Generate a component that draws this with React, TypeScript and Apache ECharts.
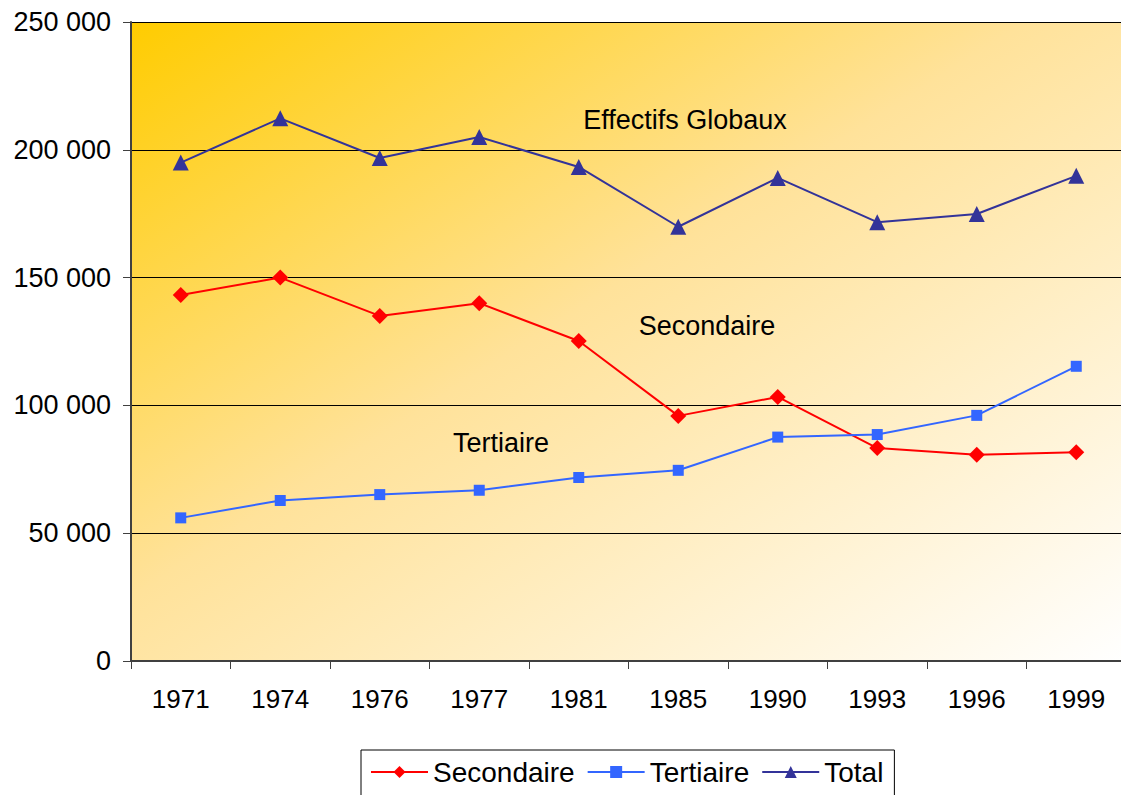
import React, { useEffect, useRef } from "react";
import * as echarts from "echarts";

const years = ["1971", "1974", "1976", "1977", "1981", "1985", "1990", "1993", "1996", "1999"];
const secondaire = [143200, 150000, 135000, 140000, 125200, 95900, 103300, 83300, 80700, 81700];
const tertiaire = [56000, 62800, 65100, 66800, 71800, 74600, 87600, 88600, 96100, 115300];
const total = [195000, 212300, 196800, 205000, 193300, 169900, 189000, 171700, 174900, 189800];
const yTicks = [0, 50000, 100000, 150000, 200000, 250000];

const FONT = "'Liberation Sans', Arial, sans-serif";

export default function App() {
  const ref = useRef<HTMLDivElement>(null);
  useEffect(() => {
    const chart = echarts.init(ref.current!, null, { renderer: "svg" });
    chart.setOption({
      animation: false,
      textStyle: { fontFamily: FONT },
      grid: {
        left: 131,
        top: 22,
        right: 0,
        bottom: 134,
        show: true,
        borderWidth: 0,
        backgroundColor: new echarts.graphic.LinearGradient(0, 0, 1, 1, [
          { offset: 0, color: "#FFCC00" },
          { offset: 0.45, color: "#FFE29A" },
          { offset: 1, color: "#FFFFFF" },
        ]),
      },
      xAxis: {
        type: "category",
        data: years,
        boundaryGap: true,
        axisLine: { lineStyle: { color: "#404040", width: 2 } },
        axisTick: { show: true, length: 8, lineStyle: { color: "#404040", width: 1 } },
        axisLabel: { color: "#000", fontSize: 26, fontFamily: FONT, margin: 25 },
      },
      yAxis: {
        type: "value",
        min: yTicks[0],
        max: yTicks[yTicks.length - 1],
        interval: 50000,
        axisLine: { show: true, lineStyle: { color: "#404040", width: 2 } },
        axisTick: { show: true, length: 8, lineStyle: { color: "#404040" } },
        axisLabel: {
          color: "#000",
          fontSize: 27,
          fontFamily: FONT,
          margin: 20,
          formatter: (v: number) =>
            v === 0 ? "0" : String(v).replace(/\B(?=(\d{3})+(?!\d))/g, " "),
        },
        splitLine: { show: true, lineStyle: { color: "#000", width: 1 } },
      },
      legend: {
        left: 361,
        top: 750,
        padding: [8, 11, 14, 9],
        borderColor: "#000",
        borderWidth: 1,
        itemWidth: 57,
        itemHeight: 15,
        itemGap: 12,
        textStyle: { color: "#000", fontSize: 28, fontFamily: FONT },
        data: ["Secondaire", "Tertiaire", "Total"],
      },
      series: [
        {
          name: "Secondaire",
          type: "line",
          data: secondaire,
          symbol: "diamond",
          symbolSize: 16,
          lineStyle: { color: "#FF0000", width: 2 },
          itemStyle: { color: "#FF0000" },
        },
        {
          name: "Tertiaire",
          type: "line",
          data: tertiaire,
          symbol: "rect",
          symbolSize: 11,
          lineStyle: { color: "#3366FF", width: 2 },
          itemStyle: { color: "#3366FF" },
        },
        {
          name: "Total",
          type: "line",
          data: total,
          symbol: "triangle",
          symbolSize: 16,
          lineStyle: { color: "#333399", width: 2 },
          itemStyle: { color: "#333399" },
        },
      ],
      graphic: [
        {
          type: "text",
          x: 685,
          y: 120,
          style: { text: "Effectifs Globaux", fill: "#000", font: `27px ${FONT}`, align: "center", verticalAlign: "middle" },
        },
        {
          type: "text",
          x: 707,
          y: 326,
          style: { text: "Secondaire", fill: "#000", font: `27px ${FONT}`, align: "center", verticalAlign: "middle" },
        },
        {
          type: "text",
          x: 501,
          y: 443,
          style: { text: "Tertiaire", fill: "#000", font: `27px ${FONT}`, align: "center", verticalAlign: "middle" },
        },
      ],
    });
    return () => chart.dispose();
  }, []);
  return (
    <div
      ref={ref}
      style={{ position: "fixed", left: 0, top: 0, width: 1126, height: 795, background: "#fff" }}
    />
  );
}
